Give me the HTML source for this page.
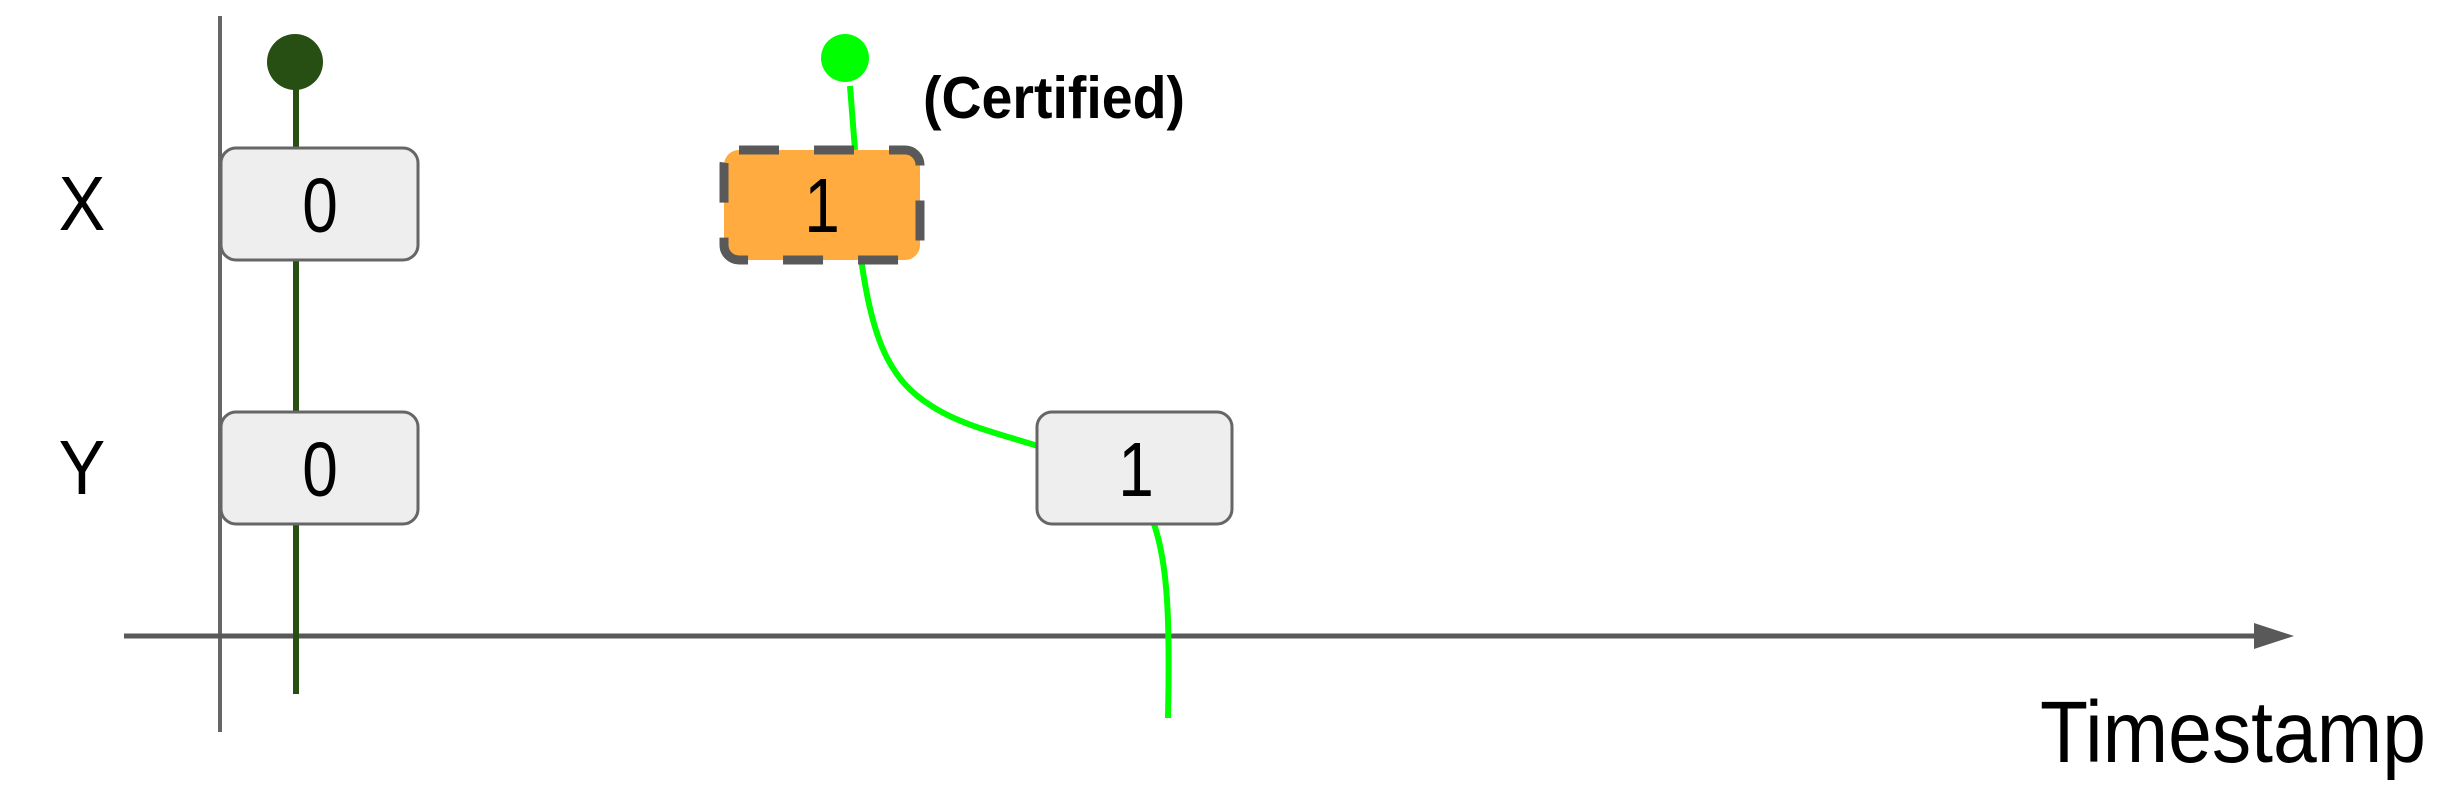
<!DOCTYPE html>
<html><head><meta charset="utf-8"><style>
html,body{margin:0;padding:0;background:#fff;}
svg{display:block;}
text{font-family:"Liberation Sans",Arial,sans-serif;}
</style></head><body>
<svg width="2446" height="793" viewBox="0 0 2446 793" xmlns="http://www.w3.org/2000/svg">
<line x1="220" y1="16" x2="220" y2="732" stroke="#666" stroke-width="4"/>
<line x1="124" y1="636" x2="2258" y2="636" stroke="#595959" stroke-width="5"/>
<polygon points="2254,623 2294,636 2254,649" fill="#595959"/>
<line x1="296" y1="62" x2="296" y2="694" stroke="#274e13" stroke-width="6"/>
<circle cx="295" cy="62" r="28" fill="#274e13"/>
<path d="M850,86 L855,150" stroke="#00ff00" stroke-width="6" fill="none"/>
<path d="M861,258 C872,340 890,380 930,405 C960,425 1000,434 1038,446" stroke="#00ff00" stroke-width="6" fill="none"/>
<path d="M1154,524 C1168,565 1170,620 1168,718" stroke="#00ff00" stroke-width="6" fill="none"/>
<circle cx="845" cy="58" r="24" fill="#00ff00"/>
<rect x="221" y="148" width="197" height="112" rx="15" fill="#eeeeee" stroke="#666" stroke-width="3"/>
<rect x="221" y="412" width="197" height="112" rx="15" fill="#eeeeee" stroke="#666" stroke-width="3"/>
<rect x="1037" y="412" width="195" height="112" rx="15" fill="#eeeeee" stroke="#666" stroke-width="3"/>
<rect x="724" y="150" width="196" height="110" rx="15" fill="#ffab40" stroke="#595959" stroke-width="9" stroke-dasharray="40,35"/>
<g font-size="64" text-anchor="middle">
<text transform="translate(320,232) scale(1,1.2)">0</text>
<text transform="translate(320,496) scale(1,1.2)">0</text>
<text transform="translate(822,232) scale(1,1.2)">1</text>
<text transform="translate(1136,496) scale(1,1.2)">1</text>
</g>
<text transform="translate(82,230) scale(1,1.1)" font-size="70" text-anchor="middle">X</text>
<text transform="translate(82,494) scale(1,1.1)" font-size="70" text-anchor="middle">Y</text>
<text transform="translate(923,118) scale(1,1.1)" font-size="54" font-weight="bold" textLength="262" lengthAdjust="spacingAndGlyphs">(Certified)</text>
<text transform="translate(2040,762) scale(1,1.15)" font-size="76" textLength="386" lengthAdjust="spacingAndGlyphs">Timestamp</text>
</svg>
</body></html>
